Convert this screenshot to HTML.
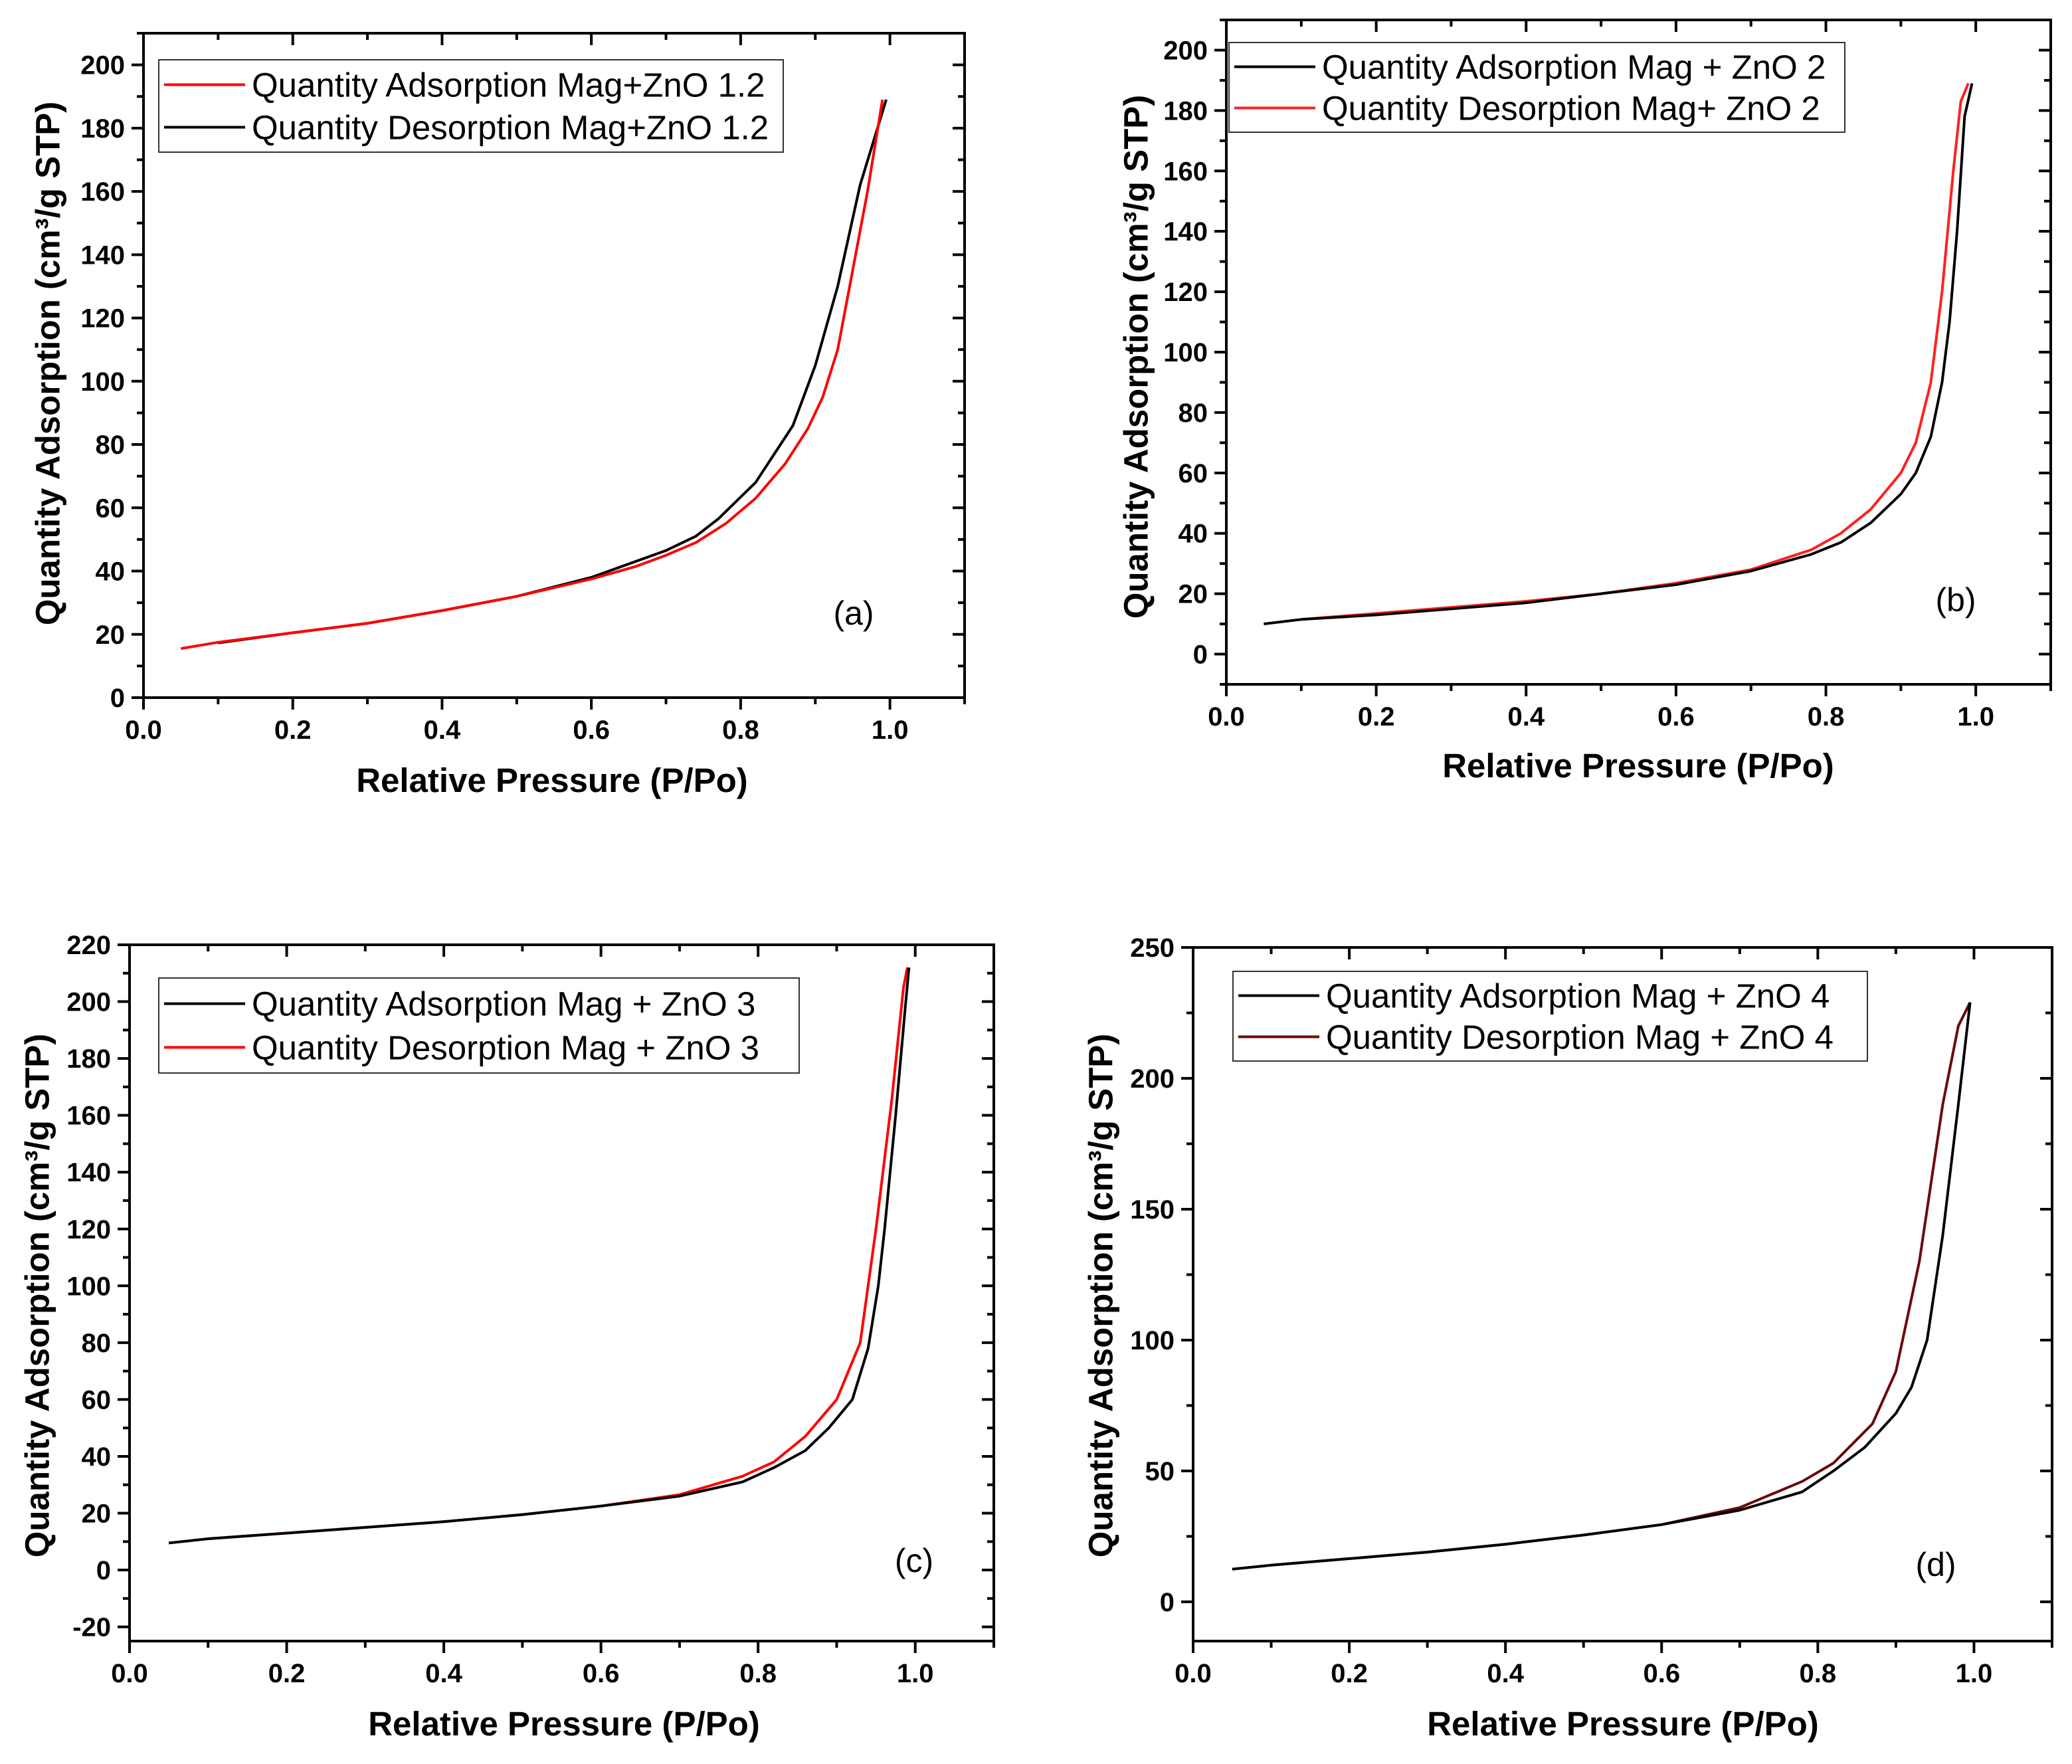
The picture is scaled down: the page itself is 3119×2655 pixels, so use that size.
<!DOCTYPE html>
<html><head><meta charset="utf-8"><style>
html,body{margin:0;padding:0;background:#fff;}
svg{display:block;font-family:"Liberation Sans",sans-serif;}
</style></head><body>
<svg id="fig" width="3119" height="2655" viewBox="0 0 3119 2655" xmlns="http://www.w3.org/2000/svg"></svg>
<script>
// Panel (a)
const aAdsX=[0.05,0.1,0.2,0.3,0.4,0.5,0.6,0.66,0.7,0.74,0.78,0.82,0.86,0.89,0.91,0.93,0.95,0.97,0.99];
const aAdsY=[15.5,17.5,20.5,23.5,27.5,32,37.5,41.5,45,49,55,63,74,85,95,110,135,160,189];
const aDesX=[0.1,0.2,0.3,0.4,0.5,0.6,0.7,0.74,0.77,0.82,0.87,0.9,0.93,0.96,0.995];
const aDesY=[17.3,20.5,23.5,27.5,32,38,46.5,51,56.5,68,86,105,130,162,189];
// Panel (b)
const bAdsX=[0.05,0.1,0.2,0.3,0.4,0.5,0.6,0.7,0.78,0.82,0.86,0.9,0.92,0.94,0.955,0.965,0.975,0.985,0.995];
const bAdsY=[10,11.5,13,15,17,20,23,27.5,33,37,43.5,53,60,72,90,110,140,178,189];
const bDesX=[0.1,0.2,0.3,0.4,0.5,0.6,0.7,0.78,0.82,0.86,0.9,0.92,0.94,0.955,0.97,0.98,0.99];
const bDesY=[11.5,13.5,15.5,17.5,20,23.5,28,34.5,40,48,60,70,90,120,160,183,189];
// Panel (c)
const cAdsX=[0.05,0.1,0.2,0.3,0.4,0.5,0.6,0.7,0.78,0.82,0.86,0.89,0.92,0.94,0.953,0.961,0.975,0.988,0.992];
const cAdsY=[9.5,11,13,15,17,19.5,22.5,26,31,36,42,50,60,78,100,120,160,200,212];
const cDesX=[0.1,0.2,0.3,0.4,0.5,0.6,0.7,0.78,0.82,0.86,0.9,0.93,0.95,0.97,0.985,0.99];
const cDesY=[11,13,15,17,19.5,22.5,26.5,33,38,47,60,80,120,165,205,212];
// Panel (d)
const dAdsX=[0.05,0.1,0.2,0.3,0.4,0.5,0.6,0.7,0.78,0.82,0.86,0.9,0.92,0.94,0.96,0.98,0.995];
const dAdsY=[12.5,14,16.5,19,22,25.5,29.5,35,42,50,59,72,82,100,140,190,229];
const dDesX=[0.1,0.2,0.3,0.4,0.5,0.6,0.7,0.78,0.82,0.87,0.9,0.93,0.96,0.98,0.995];
const dDesY=[14,16.5,19,22,25.5,29.5,36,46,53,68,88,130,190,220,229];
// Tick labels
const xTickLabels=["0.0","0.2","0.4","0.6","0.8","1.0"];
const aYTicks=[0,20,40,60,80,100,120,140,160,180,200];
const bYTicks=[0,20,40,60,80,100,120,140,160,180,200];
const cYTicks=[-20,0,20,40,60,80,100,120,140,160,180,200,220];
const dYTicks=[0,50,100,150,200,250];

const NS="http://www.w3.org/2000/svg";
const svg=document.getElementById('fig');
function mk(tag,attrs,parent){const e=document.createElementNS(NS,tag);for(const k in attrs)e.setAttribute(k,attrs[k]);(parent||svg).appendChild(e);return e;}

const panels=[
 {id:'a',L:216,R:1452,T:50,B:1050,ymin:0,ymax:210,yt:aYTicks,ym:10,
  s1:{x:aAdsX,y:aAdsY,c:'#ff0000',n:'Quantity Adsorption Mag+ZnO 1.2'},
  s2:{x:aDesX,y:aDesY,c:'#000000',n:'Quantity Desorption Mag+ZnO 1.2'},
  leg:[239,90,940,139],lab:[1285,940],xt:[831,1192],yt2:[76,547]},
 {id:'b',L:1846,R:3087,T:30,B:1030,ymin:-10,ymax:210,yt:bYTicks,ym:10,
  s1:{x:bAdsX,y:bAdsY,c:'#000000',n:'Quantity Adsorption Mag + ZnO 2'},
  s2:{x:bDesX,y:bDesY,c:'#ff2020',n:'Quantity Desorption Mag+ ZnO 2'},
  leg:[1850,64,927,135],lab:[2944,920],xt:[2466,1170],yt2:[1714,537]},
 {id:'c',L:195,R:1496,T:1422,B:2470,ymin:-25,ymax:220,yt:cYTicks,ym:10,
  s1:{x:cAdsX,y:cAdsY,c:'#000000',n:'Quantity Adsorption Mag + ZnO 3'},
  s2:{x:cDesX,y:cDesY,c:'#ff0000',n:'Quantity Desorption Mag + ZnO 3'},
  leg:[239,1472,964,143],lab:[1376,2366],xt:[849,2612],yt2:[60,1950]},
 {id:'d',L:1796,R:3089,T:1426,B:2470,ymin:-15,ymax:250,yt:dYTicks,ym:25,
  s1:{x:dAdsX,y:dAdsY,c:'#000000',n:'Quantity Adsorption Mag + ZnO 4'},
  s2:{x:dDesX,y:dDesY,c:'#6b0a0a',n:'Quantity Desorption Mag + ZnO 4'},
  leg:[1856,1462,955,135],lab:[2914,2372],xt:[2443,2612],yt2:[1661,1950]}
];

panels.forEach(p=>{
 const g=mk('g',{});
 
 
 const sx=v=>p.L+(v/1.1)*(p.R-p.L);
 const sy=v=>p.B-(v-p.ymin)/(p.ymax-p.ymin)*(p.B-p.T);
 const box=mk('rect',{x:p.L,y:p.T,width:p.R-p.L,height:p.B-p.T,fill:'none',stroke:'#000','stroke-width':4},g);
 
 
 for(let i=0;i<=11;i++){
  const v=i*0.1, X=sx(v), major=i%2===0, len=major?18:10;
  mk('line',{x1:X,y1:p.B,x2:X,y2:p.B+len,stroke:'#000','stroke-width':4},g);
  mk('line',{x1:X,y1:p.T,x2:X,y2:p.T+len,stroke:'#000','stroke-width':4},g);
 }
 xTickLabels.forEach((t,i)=>{
  const tx=mk('text',{x:sx(i*0.2),y:p.B+62,'text-anchor':'middle','font-size':40,'font-weight':'bold'},g);
  tx.textContent=t;
  
  
 });
 const step=p.ym;
 for(let v=Math.ceil(p.ymin/step)*step; v<=p.ymax; v+=step){
  const Y=sy(v), major=p.yt.includes(v), len=major?18:10;
  mk('line',{x1:p.L-len,y1:Y,x2:p.L,y2:Y,stroke:'#000','stroke-width':4},g);
  mk('line',{x1:p.R-len,y1:Y,x2:p.R,y2:Y,stroke:'#000','stroke-width':4},g);
 }
 p.yt.forEach(v=>{
  const tx=mk('text',{x:p.L-28,y:sy(v)+14,'text-anchor':'end','font-size':40,'font-weight':'bold'},g);
  tx.textContent=v;
  
  
 });
 [p.s2,p.s1].forEach((s,k)=>{
  const d=s.x.map((x,i)=>(i?'L':'M')+sx(x).toFixed(1)+','+sy(s.y[i]).toFixed(1)).join(' ');
  const pa=mk('path',{d:d,fill:'none',stroke:s.c,'stroke-width':4,'stroke-linejoin':'round'},g);
  
  
 });
 const [lx,ly,lw,lh]=p.leg;
 const lg=mk('g',{},g);
 
 
 mk('rect',{x:lx,y:ly,width:lw,height:lh,fill:'#fff',stroke:'#333','stroke-width':2},lg);
 [p.s1,p.s2].forEach((s,i)=>{
  const cy=ly+lh*(i?0.73:0.27);
  mk('line',{x1:lx+8,y1:cy,x2:lx+130,y2:cy,stroke:s.c,'stroke-width':4},lg);
  const t=mk('text',{x:lx+140,y:cy+18,'font-size':51},lg);
  t.textContent=s.n;
  
  
 });
 const pl=mk('text',{x:p.lab[0],y:p.lab[1],'text-anchor':'middle','font-size':50},g);
 pl.textContent='('+p.id+')';
 
 
 const xt=mk('text',{x:p.xt[0],y:p.xt[1],'text-anchor':'middle','font-size':51,'font-weight':'bold'},g);
 xt.textContent='Relative Pressure (P/Po)';
 
 
 const yt=mk('text',{x:p.yt2[0],y:p.yt2[1],'text-anchor':'middle','font-size':51,'font-weight':'bold',transform:'rotate(-90 '+p.yt2[0]+' '+p.yt2[1]+')','dominant-baseline':'middle'},g);
 yt.textContent='Quantity Adsorption (cm³/g STP)';
 
 
});
</script>
</body></html>
